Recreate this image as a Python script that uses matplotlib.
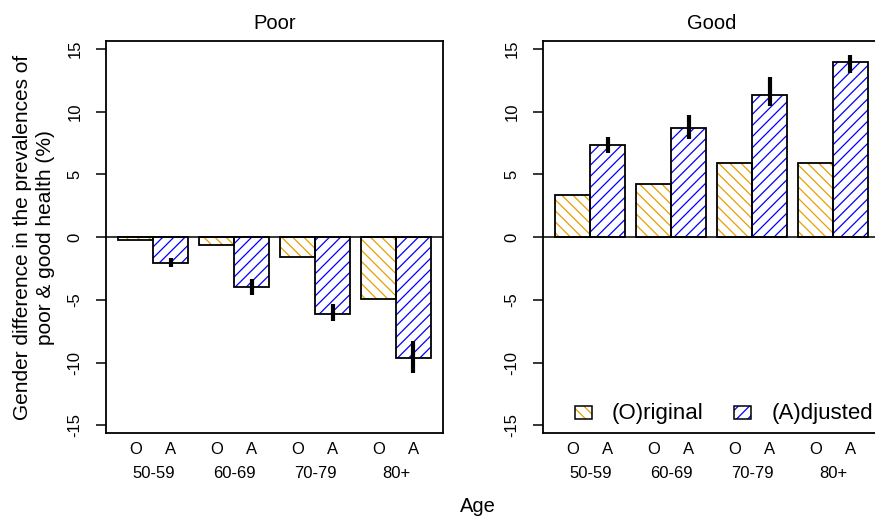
import matplotlib
matplotlib.use("Agg")
import matplotlib.pyplot as plt
import matplotlib.transforms as mtrans
from matplotlib.patches import Rectangle

plt.rcParams['font.family'] = ['Liberation Sans', 'DejaVu Sans']
plt.rcParams['hatch.linewidth'] = 0.9

# ---------------- data ----------------
age_groups = ["50-59", "60-69", "70-79", "80+"]
bar_labels = ["O", "A"]
panels = ["Poor", "Good"]

poor_original = [-0.2, -0.6, -1.6, -4.9]
poor_adjusted = [-2.05, -4.0, -6.1, -9.6]
poor_adj_lo = [-2.35, -4.6, -6.7, -10.8]
poor_adj_hi = [-1.7, -3.3, -5.3, -8.3]

good_original = [3.35, 4.2, 5.9, 5.95]
good_adjusted = [7.35, 8.7, 11.3, 13.95]
good_adj_lo = [6.7, 7.8, 10.45, 13.05]
good_adj_hi = [8.0, 9.7, 12.8, 14.5]

yticks = [-15, -10, -5, 0, 5, 10, 15]
legend_labels = ["(O)riginal", "(A)djusted"]

# ---------------- style ----------------
W, H = 875, 517
ORANGE = "#E69F00"
BLUE = "#0000FF"

fig = plt.figure(figsize=(W / 100, H / 100), dpi=100)

def fx(px):
    return px / W

def fy(py):
    return 1 - py / H

ax_top, ax_bot = 41, 433.3
ax_w = 337.3
lefts = [106, 543]

gap = 0.314
margin = 0.355

data = [
    (poor_original, poor_adjusted, poor_adj_lo, poor_adj_hi),
    (good_original, good_adjusted, good_adj_lo, good_adj_hi),
]

for k, (title, (orig, adj, lo, hi)) in enumerate(zip(panels, data)):
    ax = fig.add_axes([fx(lefts[k]), fy(ax_bot), ax_w / W, (ax_bot - ax_top) / H])
    n = len(age_groups)
    starts = [i * (2 + gap) for i in range(n)]
    o_x = starts
    a_x = [s + 1 for s in starts]
    # hatched fills
    ax.bar(o_x, orig, width=1, align='edge', facecolor='white', edgecolor=ORANGE,
           linewidth=0, hatch='\\\\\\', zorder=2)
    ax.bar(a_x, adj, width=1, align='edge', facecolor='white', edgecolor=BLUE,
           linewidth=0, hatch='///', zorder=2)
    # outlines
    ax.bar(o_x, orig, width=1, align='edge', fill=False, edgecolor='black',
           linewidth=1.3, zorder=3)
    ax.bar(a_x, adj, width=1, align='edge', fill=False, edgecolor='black',
           linewidth=1.3, zorder=3)
    # error bars
    a_c = [x + 0.5 for x in a_x]
    ax.vlines(a_c, lo, hi, colors='black', linewidth=3.0, zorder=4)
    ax.axhline(0, color='black', linewidth=1.1, zorder=5)

    ax.set_xlim(-margin, starts[-1] + 2 + margin)
    ax.set_ylim(-15.64, 15.64)
    ax.set_yticks(yticks)
    ax.set_yticklabels([str(t) for t in yticks], rotation=90, va='center', fontsize=12)
    ax.tick_params(axis='y', length=7, width=1.1, pad=10)
    ax.set_xticks([])
    for sp in ax.spines.values():
        sp.set_linewidth(1.3)
    ax.set_title(title, fontsize=14.5, pad=8.5)

    tr = mtrans.blended_transform_factory(ax.transData, ax.transAxes)
    hgt = ax_bot - ax_top
    y_oa = -(450 - ax_bot) / hgt
    y_grp = -(474 - ax_bot) / hgt
    for i in range(n):
        ax.text(o_x[i] + 0.5, y_oa, bar_labels[0], transform=tr, ha='center', va='center', fontsize=12)
        ax.text(a_x[i] + 0.5, y_oa, bar_labels[1], transform=tr, ha='center', va='center', fontsize=12)
        ax.text(starts[i] + 1, y_grp, age_groups[i], transform=tr, ha='center', va='center', fontsize=12)

    if k == 0:
        ax.text(fx(34) * W / ax_w - lefts[0] / ax_w, 0.5,
                "Gender difference in the prevalences of\npoor & good health (%)",
                transform=ax.transAxes, rotation=90, ha='center', va='center',
                fontsize=15, linespacing=1.3, multialignment='center')
    if k == 1:
        # legend drawn manually (no frame)
        for (px0, tx, lab, col, hat) in [(575, 612, legend_labels[0], ORANGE, '\\\\\\'),
                                         (734, 772, legend_labels[1], BLUE, '///')]:
            r = Rectangle((fx(px0), fy(419)), 17 / W, 13 / H, transform=fig.transFigure,
                          facecolor='white', edgecolor=col, linewidth=0, hatch=hat)
            fig.patches.append(r)
            r2 = Rectangle((fx(px0), fy(419)), 17 / W, 13 / H, transform=fig.transFigure,
                           fill=False, edgecolor='black', linewidth=1.1)
            fig.patches.append(r2)
            fig.text(fx(tx), fy(413), lab, ha='left', va='center', fontsize=16)

fig.text(fx(478), fy(507), "Age", ha='center', va='center', fontsize=14.5)

fig.savefig("out.png", dpi=100)
